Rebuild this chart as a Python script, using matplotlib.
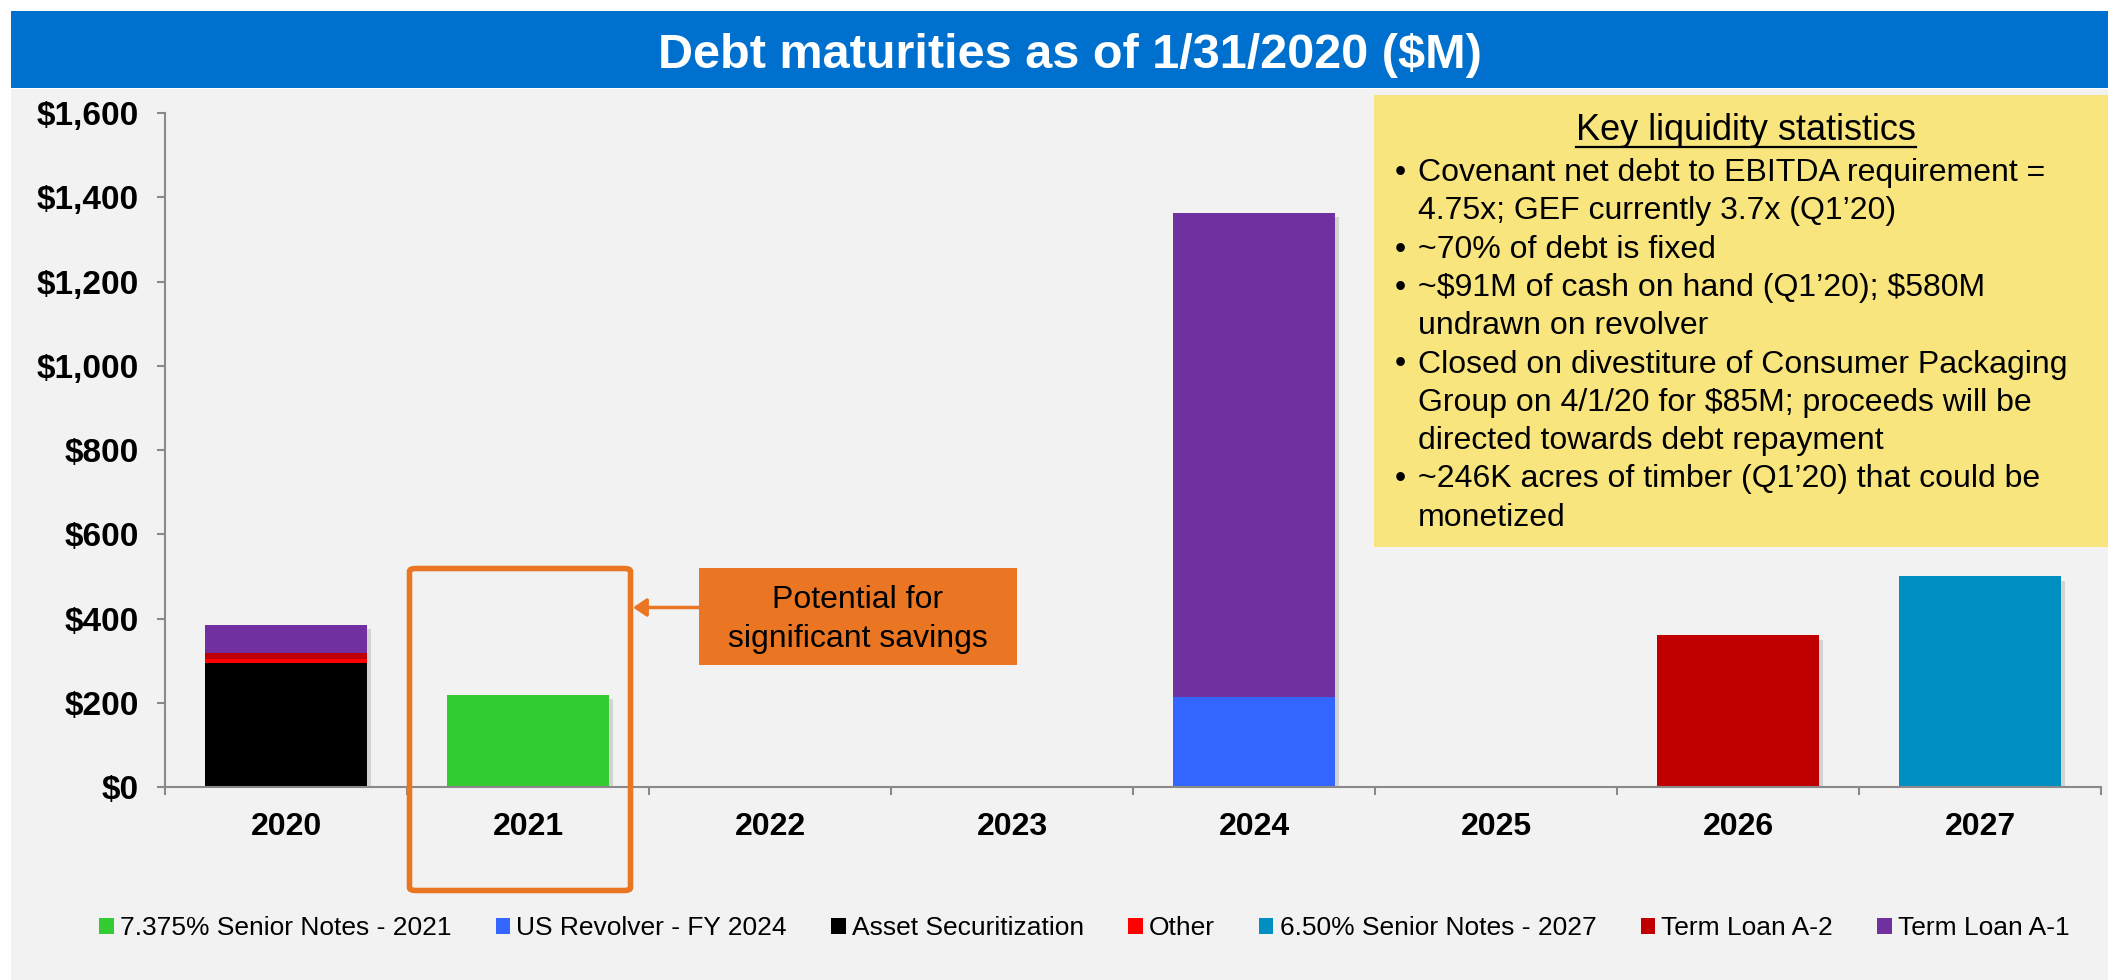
import matplotlib
matplotlib.use("Agg")
import matplotlib.pyplot as plt
import matplotlib.patheffects as pe
from matplotlib.patches import Rectangle, FancyBboxPatch, FancyArrowPatch, Patch
from matplotlib.lines import Line2D
import numpy as np

plt.rcParams["font.family"] = ["Liberation Sans", "DejaVu Sans"]
plt.rcParams["text.parse_math"] = False  # dollar signs are literal here

years = ["2020", "2021", "2022", "2023", "2024", "2025", "2026", "2027"]

# maturities in $M, stacked bottom to top in this order
senior_notes_2021 = [0, 219, 0, 0, 0, 0, 0, 0]
us_revolver = [0, 0, 0, 0, 214, 0, 0, 0]
asset_securitization = [295, 0, 0, 0, 0, 0, 0, 0]
other = [8, 0, 0, 0, 0, 0, 0, 0]
senior_notes_2027 = [0, 0, 0, 0, 0, 0, 0, 500]
term_loan_a2 = [16, 0, 0, 0, 0, 0, 360, 0]
term_loan_a1 = [65, 0, 0, 0, 1149, 0, 0, 0]

series_names = ["7.375% Senior Notes - 2021", "US Revolver - FY 2024", "Asset Securitization",
                "Other", "6.50% Senior Notes - 2027", "Term Loan A-2", "Term Loan A-1"]
series_values = [senior_notes_2021, us_revolver, asset_securitization, other,
                 senior_notes_2027, term_loan_a2, term_loan_a1]
series_colors = ["#33CC33", "#3366FF", "#000000", "#FF0000", "#008FC0", "#C00000", "#7030A0"]

stats_title = "Key liquidity statistics"
stats_lines = [
    (True, "Covenant net debt to EBITDA requirement ="),
    (False, "4.75x; GEF currently 3.7x (Q1\u201920)"),
    (True, "~70% of debt is fixed"),
    (True, "~$91M of cash on hand (Q1\u201920); $580M"),
    (False, "undrawn on revolver"),
    (True, "Closed on divestiture of Consumer Packaging"),
    (False, "Group on 4/1/20 for $85M; proceeds will be"),
    (False, "directed towards debt repayment"),
    (True, "~246K acres of timber (Q1\u201920) that could be"),
    (False, "monetized"),
]
callout_lines = ["Potential for", "significant savings"]

W, H = 2108, 980
fig = plt.figure(figsize=(W / 100, H / 100), dpi=100)


def fx(px):
    return px / W


def fy(py):
    return 1 - py / H


orange = "#EA7623"
axis_gray = "#898989"

# panel background and title bar
fig.patches.append(Rectangle((fx(11), 0), 1 - fx(11), fy(89), transform=fig.transFigure,
                             facecolor="#F2F2F2", edgecolor="none", zorder=-2))
fig.patches.append(Rectangle((fx(11), fy(88)), 1 - fx(11), fy(11) - fy(88), transform=fig.transFigure,
                             facecolor="#0070CE", edgecolor="none", zorder=-1))
fig.text(fx(1070), fy(68), "Debt maturities as of 1/31/2020 ($M)", ha="center", va="baseline",
         color="white", fontsize=35, fontweight="bold")

ax = fig.add_axes([fx(165), fy(787), fx(2101) - fx(165), fy(113) - fy(787)])
ax.set_facecolor("none")

x = np.arange(len(years))
width = 0.667
totals = np.sum(np.array(series_values), axis=0)

# soft shadow behind each full stack
ax.bar(x[totals > 0], totals[totals > 0], width, color="none", zorder=1,
       path_effects=[pe.SimplePatchShadow(offset=(3, -3), shadow_rgbFace="#9a9a9a", alpha=0.35)])

bottom = np.zeros(len(years))
for name, vals, color in zip(series_names, series_values, series_colors):
    vals = np.array(vals, dtype=float)
    m = vals > 0
    ax.bar(x[m], vals[m], width, bottom=bottom[m], color=color, edgecolor="none", zorder=2, label=name)
    bottom += vals

ax.set_xlim(-0.5, 7.5)
ax.set_ylim(0, 1600)
ax.set_xticks(x)
ax.set_xticklabels(years, fontsize=23, fontweight="bold")
ax.set_xticks(np.arange(-0.5, 8, 1), minor=True)
ax.tick_params(axis="x", which="major", length=0, pad=18)
ax.tick_params(axis="x", which="minor", length=6, width=1.5, color=axis_gray)
ax.set_yticks(range(0, 1601, 200))
ax.set_yticklabels([f"${v:,}" for v in range(0, 1601, 200)], fontsize=24, fontweight="bold")
ax.tick_params(axis="y", length=6, width=1.5, color=axis_gray, pad=13)
for s in ["top", "right"]:
    ax.spines[s].set_visible(False)
for s in ["left", "bottom"]:
    ax.spines[s].set_color(axis_gray)
    ax.spines[s].set_linewidth(1.5)

# key statistics box
fig.patches.append(Rectangle((fx(1374), fy(547)), 1 - fx(1374), fy(95) - fy(547), transform=fig.transFigure,
                             facecolor="#F8E57D", edgecolor="none", zorder=1))
t = fig.text(fx(1746), fy(140), stats_title, ha="center", va="baseline", fontsize=26, zorder=3)
fig.canvas.draw()
bb = t.get_window_extent(fig.canvas.get_renderer())
fig.add_artist(Line2D([bb.x0 / W, bb.x1 / W], [fy(147), fy(147)], transform=fig.transFigure,
                      color="black", linewidth=1.6, zorder=3))
for i, (bullet, line) in enumerate(stats_lines):
    yb = 181 + i * 38.3
    if bullet:
        fig.text(fx(1400), fy(yb), "\u2022", ha="center", va="baseline", fontsize=23, zorder=3)
    fig.text(fx(1418), fy(yb), line, ha="left", va="baseline", fontsize=23, zorder=3)

# highlight around 2021 and the callout pointing at it
fig.patches.append(FancyBboxPatch((fx(409.5), fy(890.5)), fx(630.5) - fx(409.5), fy(568.5) - fy(890.5),
                                  boxstyle="round,pad=0,rounding_size=0.003", transform=fig.transFigure,
                                  fill=False, edgecolor=orange, linewidth=4, zorder=3))
fig.patches.append(Rectangle((fx(699), fy(665)), fx(1017) - fx(699), fy(568) - fy(665), transform=fig.transFigure,
                             facecolor=orange, edgecolor="none", zorder=3))
for i, line in enumerate(callout_lines):
    fig.text(fx(858), fy(608 + i * 39), line, ha="center", va="baseline", fontsize=23, zorder=4)
fig.patches.append(FancyArrowPatch((fx(699), fy(607.5)), (fx(633), fy(607.5)), transform=fig.transFigure,
                                   arrowstyle="-|>,head_length=0.4,head_width=0.27", mutation_scale=20,
                                   shrinkA=0, shrinkB=0, color=orange, linewidth=2.5, zorder=3))

handles = [Patch(facecolor=c, edgecolor="none", label=n) for n, c in zip(series_names, series_colors)]
fig.legend(handles=handles, loc="center", bbox_to_anchor=(0.5144, fy(928)), ncol=7, frameon=False,
           fontsize=19, handlelength=0.55, handleheight=0.55, handletextpad=0.23, columnspacing=1.68,
           borderpad=0)

fig.savefig("out.png", dpi=100, facecolor="white")
